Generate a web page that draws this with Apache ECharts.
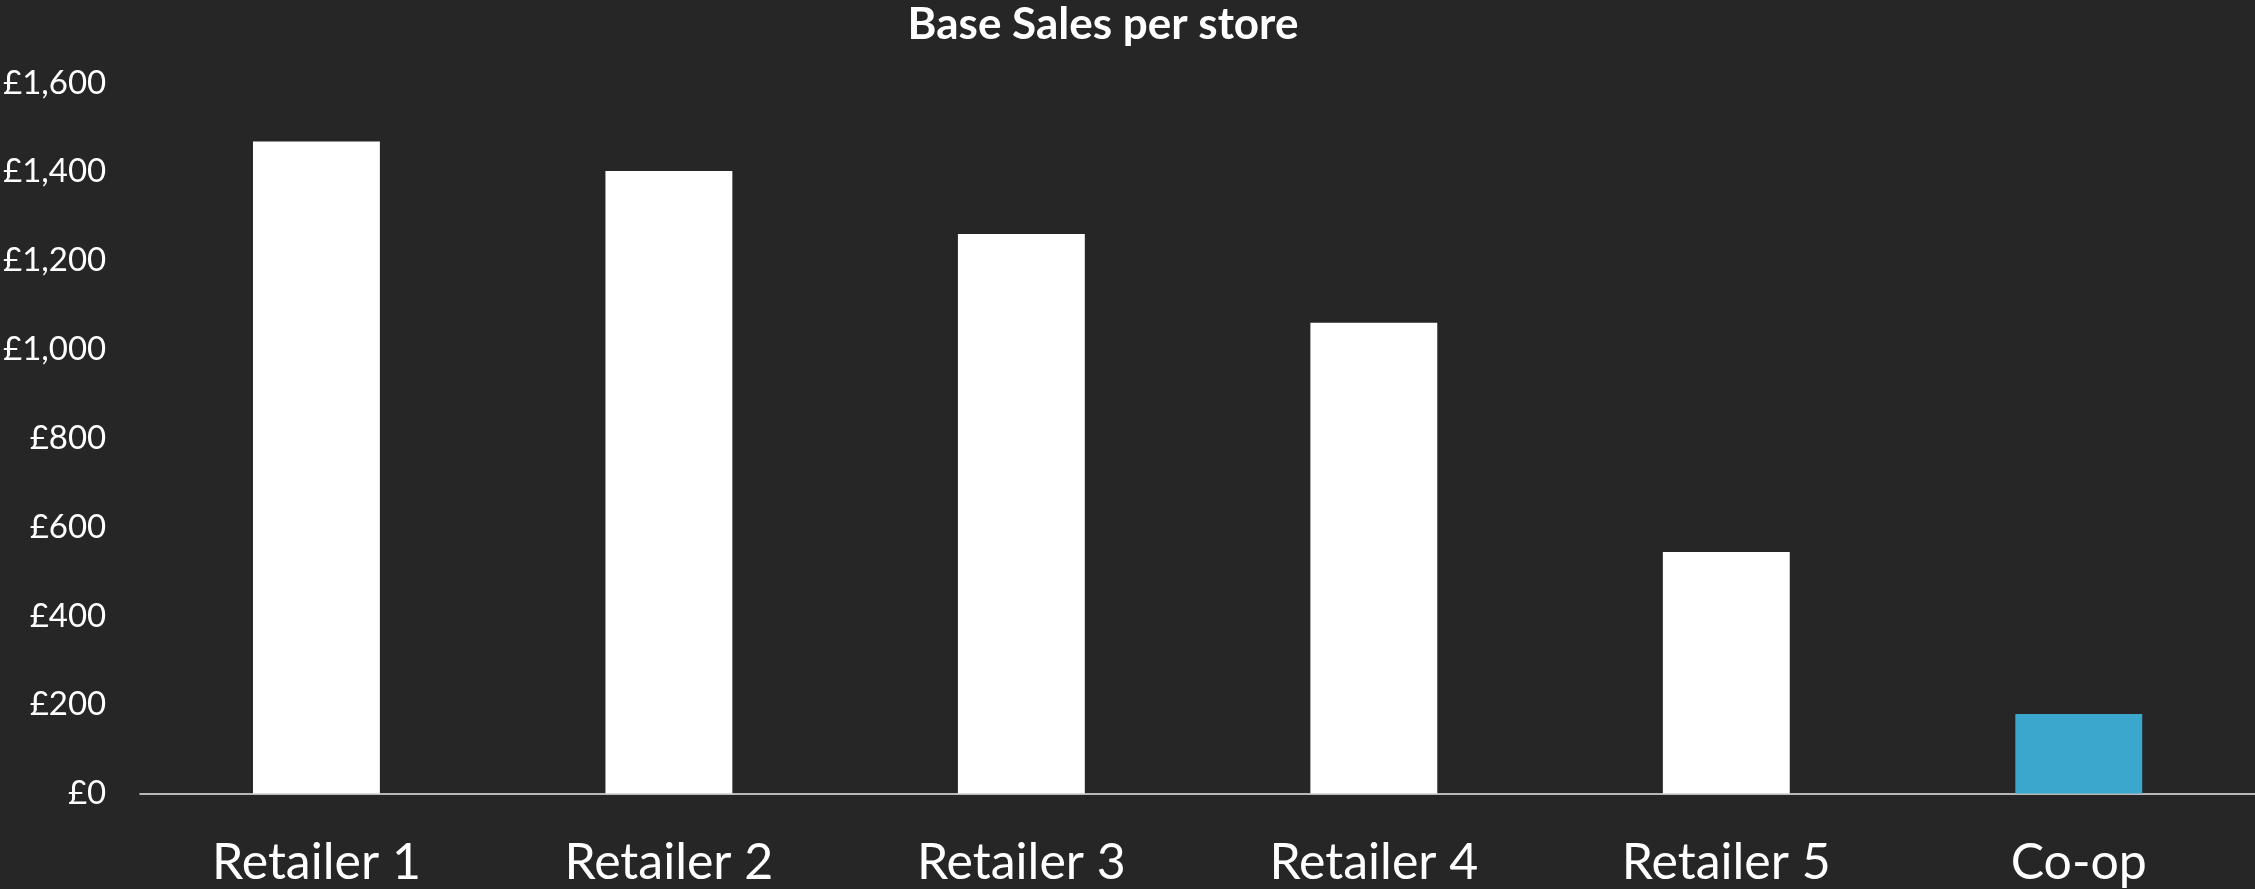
<!DOCTYPE html>
<html>
<head>
<meta charset="utf-8">
<script src="https://cdn.jsdelivr.net/npm/echarts@6/dist/echarts.min.js"></script>
<style>
html,body{margin:0;padding:0;background:#262626;}
#chart{width:2255px;height:889px;}
</style>
</head>
<body>
<div id="chart"></div>
<script>
const categories = ['Retailer 1', 'Retailer 2', 'Retailer 3', 'Retailer 4', 'Retailer 5', 'Co-op'];
const salesPerStore = [1468, 1402, 1260, 1060, 544, 179];
const highlightCategory = 'Co-op';
const yTicks = [0, 200, 400, 600, 800, 1000, 1200, 1400, 1600];

const chart = echarts.init(document.getElementById('chart'), null, {renderer: 'canvas'});
chart.setOption({
  backgroundColor: '#262626',
  animation: false,
  title: {
    text: 'Base Sales per store',
    left: 1098,
    textAlign: 'center',
    top: -2,
    textStyle: {color: '#ffffff', fontFamily: 'Lato', fontWeight: 'bold', fontSize: 44}
  },
  grid: {left: 135, right: 0, top: 83, bottom: 95.5, containLabel: false},
  xAxis: {
    type: 'category',
    data: categories,
    axisLine: {show: true, lineStyle: {color: '#b8b8b8', width: 2}},
    axisTick: {show: false},
    axisLabel: {color: '#ffffff', fontFamily: 'Lato', fontSize: 50, margin: 44}
  },
  yAxis: {
    type: 'value',
    min: yTicks[0],
    max: yTicks[yTicks.length - 1],
    interval: 200,
    axisLine: {show: false},
    axisTick: {show: false},
    splitLine: {show: false},
    axisLabel: {
      color: '#ffffff', fontFamily: 'Lato', fontSize: 33, margin: 34,
      formatter: v => '£' + v.toLocaleString('en-GB')
    }
  },
  series: [{
    type: 'bar',
    barWidth: '36%',
    data: salesPerStore.map((v, i) => ({
      value: v,
      itemStyle: {color: categories[i] === highlightCategory ? '#3BA7CC' : '#ffffff'}
    }))
  }]
});
</script>
</body>
</html>
